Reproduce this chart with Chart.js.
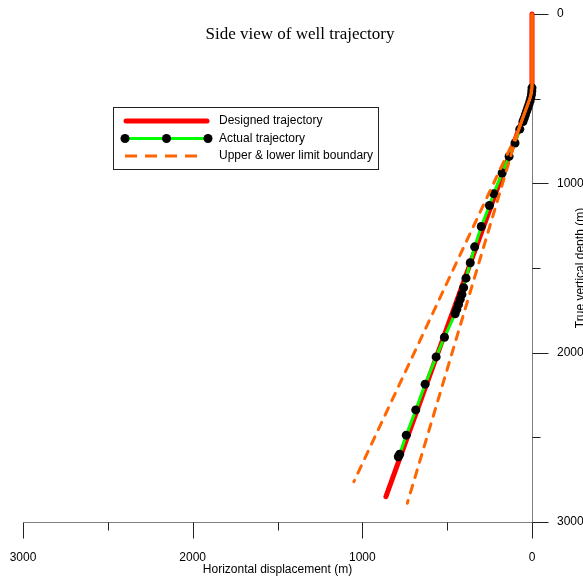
<!DOCTYPE html>
<html>
<head>
<meta charset="utf-8">
<script src="https://cdn.jsdelivr.net/npm/chart.js@4.4.1/dist/chart.umd.min.js"></script>
<style>
  body { margin: 0; background: #fff; }
  #wrap { width: 583px; height: 577px; }
</style>
</head>
<body>
<div id="wrap"><canvas id="myChart" width="583" height="577"></canvas></div>
<script>
// true vertical depth (m) and horizontal displacement (m)
const designedDepth = [0, 420, 442, 465, 486, 507, 2850]
const designedDisp  = [0, 0, 1, 4, 9, 15, 861]

const actualDepth = [436, 455, 475, 495, 515, 535, 555, 575, 595, 615, 635, 680, 762, 841, 939,
  1061, 1131, 1255, 1375, 1469, 1560, 1616, 1656, 1685, 1715, 1744, 1770, 1909, 2025, 2186,
  2338, 2487, 2600, 2615]
const actualDisp = [0, 1, 3, 7, 12, 18, 25, 32, 39, 46, 53, 72, 100, 135, 176,
  226, 251, 299, 338, 364, 389, 403, 413, 423, 433, 443, 453, 516, 565, 630,
  685, 741, 780, 788]

const upperDepth = [0, 420, 442, 465, 486, 507, 600, 700, 2762]
const upperDisp  = [0, 0, 1, 4, 9, 15, 49, 86, 1050]
const lowerDepth = [0, 420, 442, 465, 486, 507, 600, 700, 2889]
const lowerDisp  = [0, 0, 1, 4, 9, 15, 49, 84, 735]

const xTickLabels = [0, 1000, 2000, 3000]
const yTickLabels = [0, 1000, 2000, 3000]

const RED = '#ff0000'
const GREEN = '#00ff00'
const ORANGE = 'rgb(255,102,0)'

Chart.defaults.font.family = "'Liberation Sans', Arial, sans-serif"
Chart.defaults.font.size = 12
Chart.defaults.color = '#000'

function pts(depths, disps) {
  return depths.map((d, i) => ({ x: disps[i], y: d }))
}

// dashed only where the two limits move apart
function limitDash(last) {
  return ctx => ctx.p1DataIndex === last ? [8, 8] : undefined
}

// the layout padding already leaves room for the end labels
function noEdgePadding(s) {
  s.paddingLeft = 0
  s.paddingRight = 0
  s.paddingTop = 0
  s.paddingBottom = 0
}

// axis lines, tick marks, titles and the boxed legend
const frame = {
  id: 'frame',
  beforeDatasetsDraw(chart) {
    const { ctx, scales: { x, y } } = chart
    const ax = Math.round(x.getPixelForValue(0)) + 0.5
    const ay = Math.round(y.getPixelForValue(3000)) + 0.5
    ctx.save()
    ctx.lineWidth = 1
    ctx.strokeStyle = '#7f7f7f'
    ctx.beginPath()
    ctx.moveTo(Math.round(x.getPixelForValue(3000)) + 0.5, ay)
    ctx.lineTo(ax, ay)
    ctx.moveTo(ax, Math.round(y.getPixelForValue(0)) + 0.5)
    ctx.lineTo(ax, ay)
    ctx.stroke()
    ctx.strokeStyle = '#222'
    ctx.beginPath()
    for (let v = 0; v <= 3000; v += 500) {
      const len = v % 1000 === 0 ? 16 : 8
      const px = Math.round(x.getPixelForValue(v)) + 0.5
      ctx.moveTo(px, ay)
      ctx.lineTo(px, ay + len)
      const py = Math.round(y.getPixelForValue(v)) + 0.5
      ctx.moveTo(ax, py)
      ctx.lineTo(ax + len, py)
    }
    ctx.stroke()
    ctx.restore()
  },
  afterDraw(chart) {
    const { ctx } = chart
    ctx.save()
    // title
    ctx.fillStyle = '#000'
    ctx.font = "17px 'Liberation Serif', 'Times New Roman', serif"
    ctx.textAlign = 'center'
    ctx.textBaseline = 'alphabetic'
    ctx.fillText('Side view of well trajectory', 300, 39)

    // y axis title, reads bottom to top
    ctx.font = "12px 'Liberation Sans', Arial, sans-serif"
    ctx.save()
    ctx.translate(581, 268)
    ctx.rotate(-Math.PI / 2)
    ctx.textBaseline = 'middle'
    ctx.fillText('True vertical depth (m)', 0, 0)
    ctx.restore()

    // legend
    ctx.lineWidth = 1
    ctx.strokeStyle = '#222'
    ctx.strokeRect(113.5, 107.5, 265, 62)

    ctx.lineCap = 'round'
    ctx.strokeStyle = RED
    ctx.lineWidth = 5
    ctx.beginPath(); ctx.moveTo(126, 121); ctx.lineTo(207, 121); ctx.stroke()

    ctx.lineCap = 'butt'
    ctx.strokeStyle = GREEN
    ctx.lineWidth = 3
    ctx.beginPath(); ctx.moveTo(125, 138.5); ctx.lineTo(208, 138.5); ctx.stroke()
    ctx.fillStyle = '#000'
    ;[125, 166.5, 208].forEach(cx => {
      ctx.beginPath(); ctx.arc(cx, 138.5, 4.5, 0, Math.PI * 2); ctx.fill()
    })

    ctx.strokeStyle = ORANGE
    ctx.setLineDash([12, 8])
    ctx.beginPath(); ctx.moveTo(125, 156); ctx.lineTo(197, 156); ctx.stroke()
    ctx.setLineDash([])

    ctx.fillStyle = '#000'
    ctx.textAlign = 'left'
    ctx.textBaseline = 'middle'
    ctx.fillText('Designed trajectory', 219, 121)
    ctx.fillText('Actual trajectory', 219, 138.5)
    ctx.fillText('Upper & lower limit boundary', 219, 156)
    ctx.restore()
  }
}

const canvas = document.getElementById('myChart')

new Chart(canvas, {
  type: 'scatter',
  data: {
    datasets: [
      {
        label: 'Upper limit boundary',
        data: pts(upperDepth, upperDisp),
        showLine: true,
        borderColor: ORANGE,
        borderWidth: 3,
        borderCapStyle: 'round',
        pointRadius: 0,
        clip: false,
        order: 0,
        segment: { borderDash: limitDash(upperDepth.length - 1) }
      },
      {
        label: 'Lower limit boundary',
        data: pts(lowerDepth, lowerDisp),
        showLine: true,
        borderColor: ORANGE,
        borderWidth: 3,
        borderCapStyle: 'round',
        pointRadius: 0,
        clip: false,
        order: 0,
        segment: { borderDash: limitDash(lowerDepth.length - 1) }
      },
      {
        label: 'Actual trajectory',
        data: pts(actualDepth, actualDisp),
        showLine: true,
        borderColor: GREEN,
        borderWidth: 3,
        pointRadius: 4.5,
        pointBackgroundColor: '#000',
        pointBorderColor: '#000',
        pointBorderWidth: 0,
        clip: false,
        order: 1
      },
      {
        label: 'Designed trajectory',
        data: pts(designedDepth, designedDisp),
        showLine: true,
        borderColor: RED,
        borderWidth: 5,
        borderCapStyle: 'round',
        pointRadius: 0,
        clip: false,
        order: 2
      }
    ]
  },
  options: {
    responsive: false,
    animation: false,
    layout: { padding: { left: 23, top: 14, right: 0, bottom: 0 } },
    plugins: {
      legend: { display: false },
      tooltip: { enabled: false }
    },
    scales: {
      x: {
        type: 'linear',
        position: 'bottom',
        reverse: true,
        min: 0,
        max: 3000,
        grid: { display: false, drawTicks: false },
        border: { display: false },
        ticks: {
          stepSize: 500,
          autoSkip: false,
          maxRotation: 0,
          padding: 28,
          callback: v => xTickLabels.includes(v) ? String(v) : ''
        },
        title: { display: true, text: 'Horizontal displacement (m)', padding: 0 },
        afterFit: s => { s.height = 55; noEdgePadding(s) }
      },
      y: {
        type: 'linear',
        position: 'right',
        reverse: true,
        min: 0,
        max: 3000,
        grid: { display: false, drawTicks: false },
        border: { display: false },
        ticks: {
          stepSize: 500,
          autoSkip: false,
          padding: 25,
          callback: v => yTickLabels.includes(v) ? String(v) : ''
        },
        afterFit: s => { s.width = 51; noEdgePadding(s) }
      }
    }
  },
  plugins: [frame]
})
</script>
</body>
</html>
